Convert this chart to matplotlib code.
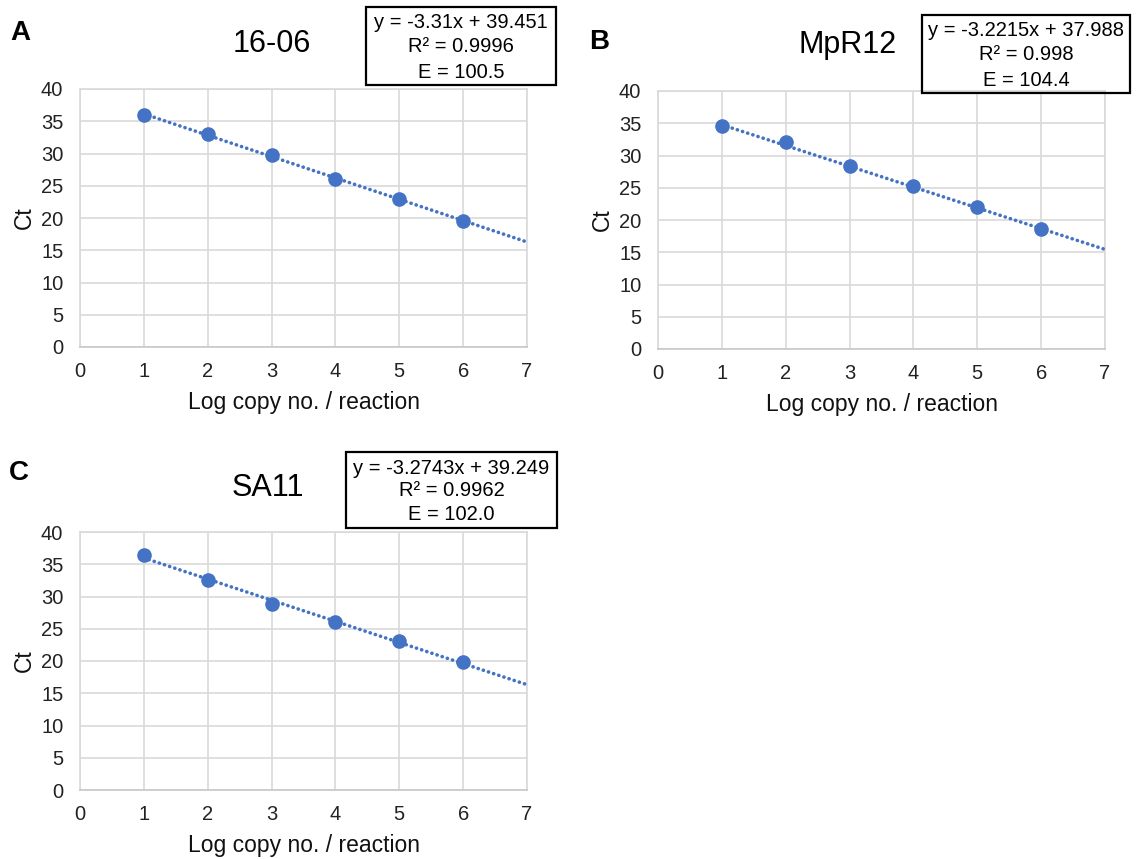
import numpy as np
import matplotlib.pyplot as plt
from matplotlib.patches import Rectangle

plt.rcParams['font.family'] = ['Liberation Sans', 'DejaVu Sans']

# data
log_copies = [1, 2, 3, 4, 5, 6]
ct_1606 = [36.0, 33.0, 29.8, 26.1, 23.0, 19.6]
ct_mpr12 = [34.5, 32.1, 28.35, 25.2, 21.95, 18.6]
ct_sa11 = [36.5, 32.6, 28.9, 26.05, 23.1, 19.9]

titles = ['16-06', 'MpR12', 'SA11']
letters = ['A', 'B', 'C']
slopes = [-3.31, -3.2215, -3.2743]
intercepts = [39.451, 37.988, 39.249]
r2_text = ['0.9996', '0.998', '0.9962']
eff_text = ['100.5', '104.4', '102.0']
slope_text = ['-3.31', '-3.2215', '-3.2743']
intercept_text = ['39.451', '37.988', '39.249']

series = [ct_1606, ct_mpr12, ct_sa11]

W, H = 1138, 859
blue = '#4472C4'
grid_col = '#D9D9D9'

fig = plt.figure(figsize=(W / 100, H / 100), dpi=100)

# pixel layout: axes box (left, right, top, bottom), title centre, letter pos, eq box
layout = [
    dict(ax=(80, 527, 89, 347), title=(272, 44), letter=(20, 33), box=(366, 556, 7, 85)),
    dict(ax=(658, 1105, 91, 349), title=(848, 45), letter=(599, 42), box=(922, 1130, 15, 93)),
    dict(ax=(80, 527, 532, 790), title=(268, 488), letter=(19, 473), box=(346, 557, 452, 528)),
]

def fx(px):
    return px / W

def fy(py):
    return 1 - py / H

for i, lay in enumerate(layout):
    l, r, t, b = lay['ax']
    ax = fig.add_axes([fx(l), fy(b), fx(r) - fx(l), fy(t) - fy(b)])

    # trendline from the first point to x = 7
    xt = np.array([log_copies[0], 7])
    ax.plot(xt, slopes[i] * xt + intercepts[i], color=blue, lw=2.6,
            linestyle=(0, (0.05, 1.45)), dash_capstyle='round', zorder=3)
    ax.plot(log_copies, series[i], 'o', color=blue, markersize=9.5, zorder=4)

    ax.set_xlim(0, 7)
    ax.set_ylim(0, 40)
    ax.set_xticks(range(0, 8))
    ax.set_yticks(range(0, 41, 5))
    ax.grid(True, color=grid_col, lw=1.2)
    ax.set_axisbelow(True)
    for s in ax.spines.values():
        s.set_color(grid_col)
        s.set_linewidth(1.2)
    ax.spines['bottom'].set_color('#C8C8C8')
    ax.tick_params(length=0, labelsize=14.5, colors='#222222')
    ax.tick_params(axis='x', pad=11)
    ax.tick_params(axis='y', pad=12)
    ax.set_xlabel('Log copy no. / reaction', fontsize=16.5, color='#111111', labelpad=7)
    ax.set_ylabel('Ct', fontsize=16.5, color='#111111', labelpad=4)

    tx, ty = lay['title']
    fig.text(fx(tx), fy(ty), titles[i], fontsize=22, ha='center', va='center')
    lx, ly = lay['letter']
    fig.text(fx(lx), fy(ly), letters[i], fontsize=20, fontweight='bold',
             ha='center', va='center')

    bl, br, bt, bb = lay['box']
    fig.patches.append(Rectangle((fx(bl), fy(bb)), fx(br) - fx(bl), fy(bt) - fy(bb),
                                 transform=fig.transFigure, fill=False,
                                 edgecolor='black', lw=1.6))
    cx = fx((bl + br) / 2)
    lines = ['y = %sx + %s' % (slope_text[i], intercept_text[i]),
             'R² = %s' % r2_text[i],
             'E = %s' % eff_text[i]]
    offs = [16, (bb - bt) / 2 + 1, bb - bt - 13]
    for k, txt in enumerate(lines):
        fig.text(cx, fy(bt + offs[k]), txt, fontsize=14.5,
                 ha='center', va='center')

fig.savefig('out.png', dpi=100)
